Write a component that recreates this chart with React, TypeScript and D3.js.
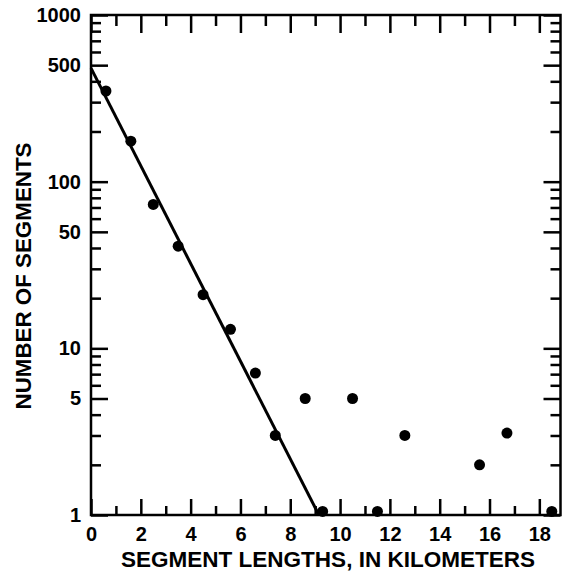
import React, { useEffect, useRef } from "react";
import * as d3 from "d3";

// segment length (km) vs number of segments
const segLengths = [0.6, 1.6, 2.5, 3.5, 4.5, 5.6, 6.6, 7.4, 8.6, 9.3, 10.5, 11.5, 12.6, 15.6, 16.7, 18.5];
const segCounts = [350, 175, 73, 41, 21, 13, 7.1, 3, 5, 1.05, 5, 1.05, 3, 2, 3.1, 1.05];

// fitted line endpoints
const fitX = [0, 9.15];
const fitY = [480, 1];

const xMajorTicks = [0, 2, 4, 6, 8, 10, 12, 14, 16, 18];
const xMinorTicks = [1, 3, 5, 7, 9, 11, 13, 15, 17];
const yMajorTicks = [1, 5, 10, 50, 100, 500, 1000];
const yMinorTicks = [2, 3, 4, 6, 7, 8, 9, 20, 30, 40, 60, 70, 80, 90, 200, 300, 400, 600, 700, 800, 900];

const xTitle = "SEGMENT LENGTHS, IN KILOMETERS";
const yTitle = "NUMBER OF SEGMENTS";

const width = 562;
const height = 573;

const App = () => {
    const svgRef = useRef(null);

    useEffect(() => {
        document.body.style.margin = "0";
        const left = 91, right = 560.5, top = 15, bottom = 515;
        const font = "'Liberation Sans', Arial, sans-serif";

        const svg = d3.select(svgRef.current);
        svg.selectAll("*").remove();

        const x = d3.scaleLinear().domain([0, 18.85]).range([left, right]);
        const y = d3.scaleLog().domain([1, 1000]).range([bottom, top]);

        const styleAxis = (g) => {
            g.select(".domain").remove();
            g.selectAll("line").attr("stroke", "#000").attr("stroke-width", 2.5);
            g.selectAll("text")
                .attr("fill", "#000")
                .style("font-family", font)
                .style("font-weight", "bold")
                .style("font-size", "20px");
        };

        // bottom axis
        svg.append("g")
            .attr("transform", `translate(0,${bottom})`)
            .call(d3.axisBottom(x).tickValues(xMajorTicks).tickSizeInner(-16).tickSizeOuter(0).tickPadding(12).tickFormat(d3.format("d")))
            .call(styleAxis);
        svg.append("g")
            .attr("transform", `translate(0,${bottom})`)
            .call(d3.axisBottom(x).tickValues(xMinorTicks).tickSizeInner(-9).tickSizeOuter(0).tickFormat(() => ""))
            .call(styleAxis);

        // top axis
        svg.append("g")
            .attr("transform", `translate(0,${top})`)
            .call(d3.axisTop(x).tickValues(xMajorTicks).tickSizeInner(-18).tickSizeOuter(0).tickFormat(() => ""))
            .call(styleAxis);
        svg.append("g")
            .attr("transform", `translate(0,${top})`)
            .call(d3.axisTop(x).tickValues(xMinorTicks).tickSizeInner(-11).tickSizeOuter(0).tickFormat(() => ""))
            .call(styleAxis);

        // left axis
        svg.append("g")
            .attr("transform", `translate(${left},0)`)
            .call(d3.axisLeft(y).tickValues(yMajorTicks).tickSizeInner(-17).tickSizeOuter(0).tickPadding(10).tickFormat(d3.format("d")))
            .call(styleAxis);
        svg.append("g")
            .attr("transform", `translate(${left},0)`)
            .call(d3.axisLeft(y).tickValues(yMinorTicks).tickSizeInner(-10).tickSizeOuter(0).tickFormat(() => ""))
            .call(styleAxis);

        // right axis
        svg.append("g")
            .attr("transform", `translate(${right},0)`)
            .call(d3.axisRight(y).tickValues(yMajorTicks).tickSizeInner(-17).tickSizeOuter(0).tickFormat(() => ""))
            .call(styleAxis);
        svg.append("g")
            .attr("transform", `translate(${right},0)`)
            .call(d3.axisRight(y).tickValues(yMinorTicks).tickSizeInner(-10).tickSizeOuter(0).tickFormat(() => ""))
            .call(styleAxis);

        // frame
        svg.append("rect")
            .attr("x", left)
            .attr("y", top)
            .attr("width", right - left)
            .attr("height", bottom - top)
            .attr("fill", "none")
            .attr("stroke", "#000")
            .attr("stroke-width", 2.5);

        // fitted line
        const line = d3.line().x((d) => x(d[0])).y((d) => y(d[1]));
        svg.append("path")
            .datum(fitX.map((v, i) => [v, fitY[i]]))
            .attr("d", line)
            .attr("fill", "none")
            .attr("stroke", "#000")
            .attr("stroke-width", 3);

        // points
        svg.selectAll(".dot")
            .data(segLengths.map((v, i) => [v, segCounts[i]]))
            .enter()
            .append("circle")
            .attr("class", "dot")
            .attr("cx", (d) => x(d[0]))
            .attr("cy", (d) => y(d[1]))
            .attr("r", 5.5)
            .attr("fill", "#000");

        // titles
        svg.append("text")
            .attr("x", 328)
            .attr("y", 567)
            .attr("fill", "#000")
            .attr("text-anchor", "middle")
            .attr("textLength", 414)
            .attr("lengthAdjust", "spacingAndGlyphs")
            .style("font-family", font)
            .style("font-weight", "bold")
            .style("font-size", "22px")
            .text(xTitle);

        svg.append("text")
            .attr("transform", `translate(31,276) rotate(-90)`)
            .attr("fill", "#000")
            .attr("text-anchor", "middle")
            .attr("textLength", 267)
            .attr("lengthAdjust", "spacingAndGlyphs")
            .style("font-family", font)
            .style("font-weight", "bold")
            .style("font-size", "22px")
            .text(yTitle);
    }, []);

    return <svg ref={svgRef} width={width} height={height} style={{ display: "block", background: "#fff" }}></svg>;
};

export default App;
